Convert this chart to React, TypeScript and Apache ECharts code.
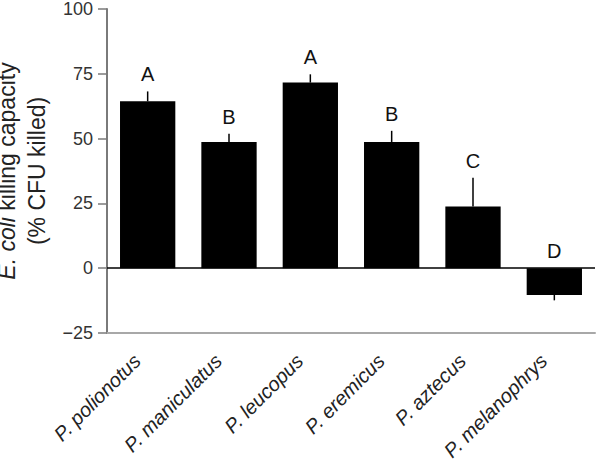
import React, { useEffect, useRef } from "react";
import * as echarts from "echarts";

const categories = ["P. polionotus", "P. maniculatus", "P. leucopus", "P. eremicus", "P. aztecus", "P. melanophrys"];
const means = [64.4, 48.7, 71.6, 48.7, 23.8, -10.3];
const errorEnds = [68.2, 51.9, 74.8, 53.0, 34.9, -12.4];
const groupLetters = ["A", "B", "A", "B", "C", "D"];
const yTicks = [-25, 0, 25, 50, 75, 100];

const FONT = "'Liberation Sans', Arial, Helvetica, sans-serif";

export default function App() {
  const ref = useRef<HTMLDivElement>(null);
  useEffect(() => {
    if (!ref.current) return;
    const chart = echarts.init(ref.current, null, { renderer: "svg" });
    const errData = categories.map((_, i) => [i, means[i], errorEnds[i]]);
    chart.setOption({
      animation: false,
      backgroundColor: "#fff",
      grid: { left: 107, right: 5, top: 9, bottom: 128, containLabel: false, outerBoundsMode: "none" },
      xAxis: {
        type: "category",
        data: categories,
        boundaryGap: true,
        axisLine: { onZero: false, lineStyle: { color: "#a8a8a8", width: 2 } },
        axisTick: { show: false },
        axisLabel: {
          rotate: 45,
          margin: 14,
          fontSize: 20,
          fontStyle: "italic",
          fontFamily: FONT,
          color: "#222",
          interval: 0,
          formatter: (v: string) => `{t|${v}}{g|}`,
          rich: {
            t: { fontSize: 20, fontStyle: "italic", fontFamily: FONT, color: "#222" },
            g: { width: 15 },
          },
        },
      },
      yAxis: {
        type: "value",
        min: yTicks[0],
        max: yTicks[yTicks.length - 1],
        interval: 25,
        splitLine: { show: false },
        axisLine: { show: true, lineStyle: { color: "#7a7a7a", width: 2 } },
        axisTick: { show: true, length: 9, lineStyle: { color: "#7a7a7a", width: 1.5 } },
        axisLabel: {
          margin: 14,
          fontSize: 18,
          fontFamily: FONT,
          color: "#333",
          formatter: (v: number) => (v < 0 ? "\u2212" + Math.abs(v) : String(v)),
        },
        name: "{i|E. coli} killing capacity\n(% CFU killed)",
        nameLocation: "middle",
        nameRotate: 90,
        nameGap: 45,
        nameTextStyle: {
          fontSize: 23,
          lineHeight: 30,
          fontFamily: FONT,
          color: "#222",
          rich: {
            i: { fontSize: 23, fontStyle: "italic", fontFamily: FONT, color: "#222", lineHeight: 30 },
          },
        },
      },
      series: [
        {
          type: "bar",
          data: means,
          barWidth: "68%",
          itemStyle: { color: "#000" },
          markLine: {
            silent: true,
            symbol: ["none", "none"],
            label: { show: false },
            lineStyle: { color: "#000", type: "solid", width: 1.5 },
            data: [{ yAxis: 0 }],
          },
          z: 2,
        },
        {
          type: "custom",
          data: errData,
          encode: { x: 0, y: [1, 2] },
          z: 3,
          renderItem: (params: any, api: any) => {
            const idx = api.value(0);
            const v = api.value(1);
            const e = api.value(2);
            const p0 = api.coord([idx, v]);
            const p1 = api.coord([idx, e]);
            const top = api.coord([idx, Math.max(0, v, e)]);
            return {
              type: "group",
              children: [
                {
                  type: "line",
                  shape: { x1: p0[0], y1: p0[1], x2: p1[0], y2: p1[1] },
                  style: { stroke: "#000", lineWidth: 1.5 },
                },
                {
                  type: "text",
                  x: top[0],
                  y: top[1] - 7,
                  style: {
                    text: groupLetters[idx],
                    fill: "#111",
                    fontSize: 20,
                    fontFamily: FONT,
                    align: "center",
                    verticalAlign: "bottom",
                    textAlign: "center",
                    textVerticalAlign: "bottom",
                  },
                },
              ],
            };
          },
        },
      ],
    });
    return () => chart.dispose();
  }, []);
  return <div ref={ref} style={{ width: 600, height: 461, position: "absolute", left: 0, top: 0 }} />;
}
